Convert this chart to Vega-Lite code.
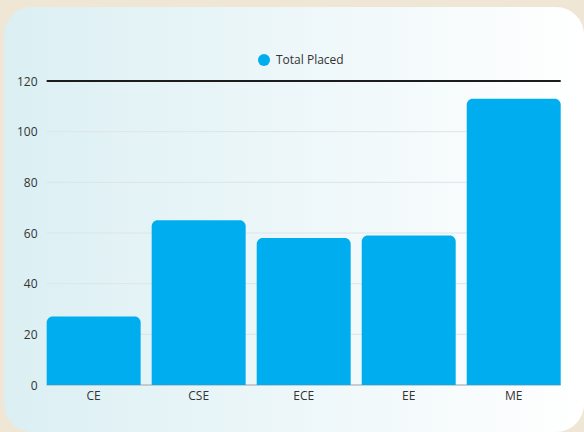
{
  "$schema": "https://vega.github.io/schema/vega-lite/v6.json",
  "width": 580,
  "height": 425,
  "autosize": {"type": "none"},
  "padding": {"left": 4, "top": 7, "right": 0, "bottom": 0},
  "background": "#f0e6d5",
  "config": {
    "font": "Open Sans",
    "view": {
      "stroke": null,
      "cornerRadius": 28,
      "fill": {
        "gradient": "linear",
        "x1": 0, "y1": 0, "x2": 1, "y2": 0,
        "stops": [
          {"offset": 0, "color": "#dbeff3"},
          {"offset": 1, "color": "#ffffff"}
        ]
      }
    },
    "axisX": {
      "title": null,
      "domain": false,
      "ticks": false,
      "grid": false,
      "offset": -47,
      "labelPadding": 5,
      "labelAngle": 0,
      "labelFontSize": 12,
      "labelColor": "#333333",
      "labelFont": "Open Sans"
    },
    "axisY": {
      "title": null,
      "grid": false,
      "domain": false,
      "ticks": false,
      "offset": -37,
      "labelPadding": 4,
      "labelFontSize": 12,
      "labelColor": "#333333",
      "labelFont": "Open Sans"
    }
  },
  "datasets": {
    "placed": [
      {"dept": "CE", "placed": 27, "series": "Total Placed"},
      {"dept": "CSE", "placed": 65, "series": "Total Placed"},
      {"dept": "ECE", "placed": 58, "series": "Total Placed"},
      {"dept": "EE", "placed": 59, "series": "Total Placed"},
      {"dept": "ME", "placed": 113, "series": "Total Placed"}
    ],
    "lines": [
      {"v": 0, "start": "CE", "end": "ME", "kind": "base"},
      {"v": 20, "start": "CE", "end": "ME", "kind": "grid"},
      {"v": 40, "start": "CE", "end": "ME", "kind": "grid"},
      {"v": 60, "start": "CE", "end": "ME", "kind": "grid"},
      {"v": 80, "start": "CE", "end": "ME", "kind": "grid"},
      {"v": 100, "start": "CE", "end": "ME", "kind": "grid"},
      {"v": 120, "start": "CE", "end": "ME", "kind": "top"}
    ]
  },
  "layer": [
    {
      "data": {"name": "lines"},
      "transform": [{"filter": "datum.kind === 'grid'"}],
      "mark": {"type": "rule", "color": "#dde4e7", "strokeWidth": 1},
      "encoding": {
        "x": {"field": "start", "type": "nominal", "bandPosition": 0, "title": null},
        "x2": {"field": "end", "bandPosition": 1},
        "y": {"field": "v", "type": "quantitative", "title": null, "axis": {"values": [0, 20, 40, 60, 80, 100, 120]}}
      }
    },
    {
      "data": {"name": "lines"},
      "transform": [{"filter": "datum.kind === 'base'"}],
      "mark": {"type": "rule", "color": "#b9bec2", "strokeWidth": 1.5},
      "encoding": {
        "x": {"field": "start", "type": "nominal", "bandPosition": 0, "title": null},
        "x2": {"field": "end", "bandPosition": 1},
        "y": {"field": "v", "type": "quantitative", "title": null, "axis": {"values": [0, 20, 40, 60, 80, 100, 120]}}
      }
    },
    {
      "data": {"name": "lines"},
      "transform": [{"filter": "datum.kind === 'top'"}],
      "mark": {"type": "rule", "color": "#1c1c1c", "strokeWidth": 2},
      "encoding": {
        "x": {"field": "start", "type": "nominal", "bandPosition": 0, "title": null},
        "x2": {"field": "end", "bandPosition": 1},
        "y": {"field": "v", "type": "quantitative", "title": null, "axis": {"values": [0, 20, 40, 60, 80, 100, 120]}}
      }
    },
    {
      "data": {"name": "placed"},
      "mark": {"type": "bar", "cornerRadiusTopLeft": 6, "cornerRadiusTopRight": 6},
      "encoding": {
        "x": {
          "field": "dept",
          "type": "nominal",
          "title": null,
          "scale": {"paddingInner": 0.105, "paddingOuter": 0.314, "align": 0.647}
        },
        "y": {
          "field": "placed",
          "type": "quantitative",
          "title": null,
          "scale": {"domain": [-18.55, 149.21], "nice": false, "zero": false},
          "axis": {"values": [0, 20, 40, 60, 80, 100, 120]}
        },
        "y2": {"datum": 0},
        "color": {
          "field": "series",
          "type": "nominal",
          "scale": {"range": ["#00aeef"]},
          "legend": {
            "orient": "none",
            "legendX": 254,
            "legendY": 47,
            "title": null,
            "symbolType": "circle",
            "symbolSize": 144,
            "symbolStrokeWidth": 0,
            "labelFontSize": 12,
            "labelColor": "#333333",
            "labelFont": "Open Sans",
            "labelOffset": 6
          }
        }
      }
    }
  ]
}
